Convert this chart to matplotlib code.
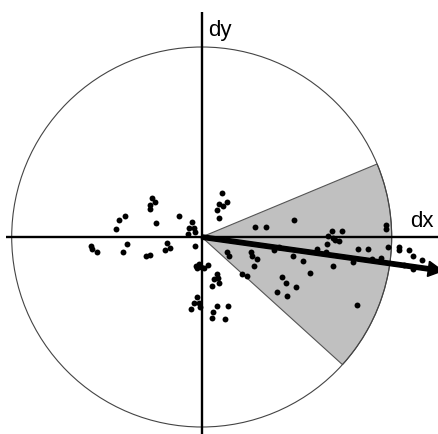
import numpy as np
import matplotlib
matplotlib.use("Agg")
import matplotlib.pyplot as plt
from matplotlib.patches import Circle, Wedge, FancyArrow

# ---- data (unit circle coordinates: dx, dy) ----
PX0, PY0, S = 201.7, 237.0, 190.0
pix_points = [
    # left cluster
    (90.7,245.7),(91.5,248.8),(96.7,252.3),(115.7,229.3),(119.3,220),(125.3,216.3),
    (127.3,243.7),(122.7,252.3),(149.7,204.5),(150.3,209),(152.3,197.8),(155.3,202),
    (155.7,223),(145.7,255.7),(150,254.7),(165,249.7),(167.3,243.3),(170,248.3),
    (179.3,215.7),(192.3,222),(189.3,228.3),(194.3,227.7),(195,231.7),(187.7,234.3),
    (195.3,246.3),
    # upper cluster near dy axis
    (221.7,193.3),(218.7,204),(222.7,205.7),(226.5,202.3),(216.7,209.7),(218.7,218.3),
    # lower cluster near dy axis
    (196,265.7),(196.7,268.3),(199.3,264),(201,266.7),(204.3,268.3),(208,265.3),
    (216.7,274),(218.3,278.3),(213.7,279.3),(219.3,282.7),(211.5,286),
    (196.7,296.7),(194,302.5),(199.3,303.3),(200,306.5),(191.5,309.3),
    (217,306),(228.2,305.5),(213.5,312.3),(211.5,318.3),(224.7,318.8),
    # wedge region
    (226.7,252.3),(228.7,255.7),(250.7,252.3),(251.7,255.7),(256.7,259),(254.3,265.7),
    (242,274),(246.7,275.5),(254.7,227),(266,227),(294,220),(274.3,250.3),(279.3,246.5),
    (293.3,256),(302.7,260.5),(310.3,272.5),(282,277.3),(286,283.2),(295.5,286.8),
    (277.3,292.3),(286.7,296.5),(316.7,248.8),(326.7,244.3),(326,252.3),(328.3,236),
    (331.7,231.3),(333.3,238.3),(335,240),(339.3,241.3),(342,230.8),(333.3,265.8),
    (353.3,262),(358.3,249),(368.3,248.5),(371.5,259.2),(381.3,258.3),(356.7,305.3),
    (385.8,225.5),(386.2,229.3),(388,246.7),
    # outside circle
    (399,246.7),(399.5,250),(408.7,250),(413,255.8),(422.3,260),(404.2,264.5),(413.3,269.3),
]
dx = [round((px - PX0) / S, 3) for px, py in pix_points]
dy = [round((PY0 - py) / S, 3) for px, py in pix_points]

mean_angle_deg = -8.0
mean_length = 1.28
wedge_from_deg = -42.2
wedge_to_deg = 22.6

# ---- figure ----
fig = plt.figure(figsize=(4.38, 4.34), dpi=100)
ax = fig.add_axes([0, 0, 1, 1])
ax.set_xlim(-PX0 / S, (438 - PX0) / S)
ax.set_ylim((PY0 - 434) / S, PY0 / S)
ax.axis("off")

ax.add_patch(Wedge((0, 0), 1.0, wedge_from_deg, wedge_to_deg,
                   facecolor="#c0c0c0", edgecolor="#555555", lw=0.8, zorder=1))
ax.add_patch(Circle((0, 0), 1.0, fill=False, edgecolor="#444444", lw=0.8, zorder=2))

# axes lines
ax.plot([(6 - PX0) / S, (438 - PX0) / S], [0, 0], color="black", lw=1.7, zorder=3,
        solid_capstyle="butt")
ax.plot([0, 0], [(PY0 - 440) / S, (PY0 - 12) / S], color="black", lw=1.7, zorder=3,
        solid_capstyle="butt")

ax.scatter(dx, dy, s=18, color="black", zorder=4, linewidths=0)

a = np.deg2rad(mean_angle_deg)
ax.add_patch(FancyArrow(0, 0, mean_length * np.cos(a), mean_length * np.sin(a),
                        width=0.023, head_width=0.08, head_length=0.075,
                        length_includes_head=True, color="black", zorder=5))

ax.text((208.3 - PX0) / S, (PY0 - 36) / S, "dy", fontsize=16, family="Liberation Sans",
        va="baseline", ha="left")
ax.text((410.5 - PX0) / S, (PY0 - 227.3) / S, "dx", fontsize=16, family="Liberation Sans",
        va="baseline", ha="left")

fig.savefig("out.png", dpi=100)
